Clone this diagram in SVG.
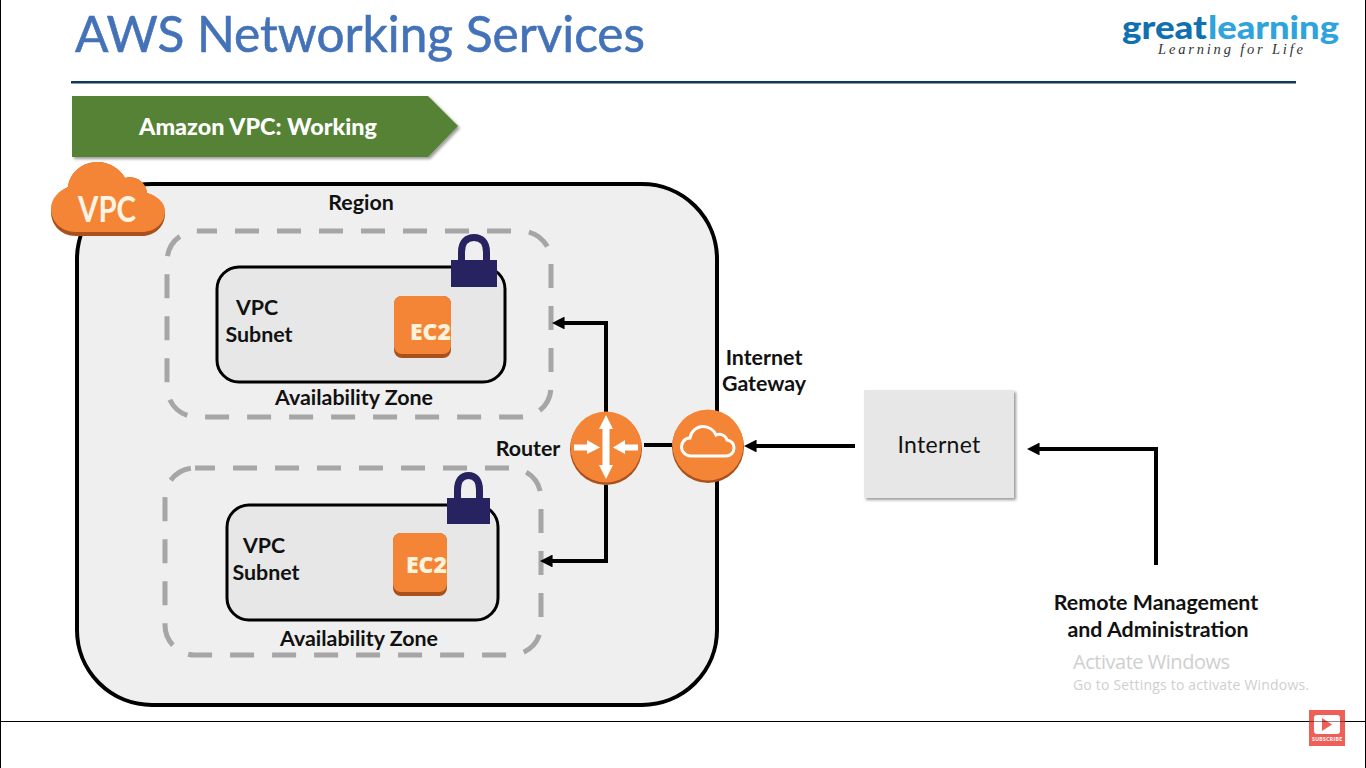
<svg xmlns="http://www.w3.org/2000/svg" width="1366" height="768" viewBox="0 0 1366 768">
<style>
text{font-family:Lato,"Open Sans","Liberation Sans",sans-serif}
.lb{font-size:21.4px;font-weight:700;fill:#111;text-anchor:middle}
.az{fill:none;stroke:#a6a6a6;stroke-width:5;stroke-dasharray:24 18;stroke-dashoffset:4}
.sn{fill:#e7e7e7;stroke:#000;stroke-width:3}
.lk{fill:#272361}
.sh{fill:none;stroke:#272361;stroke-width:7}
.or{fill:#f58536}
.ord{fill:#a9501c}
.ec{font-size:23px;font-weight:800;fill:#fff3dc;font-family:"Open Sans","Liberation Sans",sans-serif}
.cn{fill:none;stroke:#000;stroke-width:4}
.wa{fill:#fff}
</style>
<defs>
<marker id="ah" viewBox="0 0 10 10" refX="2" refY="5" markerWidth="3.2" markerHeight="3.2" orient="auto"><path d="M0 0L10 5L0 10Z" fill="#000"/></marker>
<filter id="sd" x="-10%" y="-10%" width="125%" height="125%"><feDropShadow dx="2" dy="2" stdDeviation="1.6" flood-color="#000" flood-opacity=".4"/></filter>
<clipPath id="c1"><rect x="394" y="296" width="57" height="62"/></clipPath>
<clipPath id="c2"><rect x="393" y="533" width="54" height="63"/></clipPath>
</defs>
<rect width="1366" height="768" fill="#fff"/>
<path d="M.5 0V768M1365.500 0V768M0 721.500H1366" stroke="#000" fill="none"/>
<g id="title"><text x="75" y="52" font-size="51" fill="#4472b8" stroke="#4472b8" stroke-width=".6" textLength="570" lengthAdjust="spacingAndGlyphs">AWS Networking Services</text>
<rect x="71" y="81" width="1225" height="2.500" fill="#0f3a5c"/></g>
<g id="logo">
<text x="1122" y="39" font-size="32" font-weight="900" fill="#1170b0" textLength="85" lengthAdjust="spacingAndGlyphs">great</text>
<text x="1208" y="39" font-size="32" font-weight="900" fill="#2ea3dc" textLength="131" lengthAdjust="spacingAndGlyphs">learning</text>
<text x="1158" y="54" font-size="14.500" font-style="italic" fill="#333" textLength="145" style="font-family:'Liberation Serif',serif">Learning for Life</text>
</g>
<g id="banner"><polygon points="72,96 428,96 458,126 428,157 72,157" fill="#548235" filter="url(#sd)"/>
<text x="258" y="135" font-size="23.400" font-weight="900" fill="#fff" text-anchor="middle" textLength="238" lengthAdjust="spacingAndGlyphs">Amazon VPC: Working</text></g>
<g id="region"><rect x="77" y="184" width="640" height="521" rx="75" fill="#efefef" stroke="#000" stroke-width="4"/>
<text class="lb" x="361" y="210">Region</text></g>
<g id="az1"><rect class="az" x="167" y="231" width="384" height="186" rx="30"/><text class="lb" x="354" y="405">Availability Zone</text></g>
<g id="subnet1"><rect class="sn" x="217" y="267" width="288" height="115" rx="22"/><text class="lb" x="257" y="315">VPC</text><text class="lb" x="259" y="342">Subnet</text></g>
<g id="lock1"><path class="sh" d="M461.500 262V252C461.500 242 467 237.500 474 237.500C481 237.500 486.500 242 486.500 252V262"/><rect class="lk" x="451" y="260" width="46" height="27"/></g>
<g id="ec21"><rect class="ord" x="394" y="296" width="57" height="62" rx="8"/><rect class="or" x="394" y="296" width="57" height="58" rx="8"/><text class="ec" x="410" y="340" clip-path="url(#c1)">EC2</text></g>
<g id="az2"><rect class="az" x="165" y="468" width="376" height="187" rx="30"/><text class="lb" x="359" y="646">Availability Zone</text></g>
<g id="subnet2"><rect class="sn" x="227" y="505" width="271" height="115" rx="22"/><text class="lb" x="264" y="553">VPC</text><text class="lb" x="266" y="580">Subnet</text></g>
<g id="lock2"><path class="sh" d="M457.500 502V490C457.500 480 462 475.500 468.500 475.500C475 475.500 479.500 480 479.500 490V502"/><rect class="lk" x="447" y="498" width="43" height="26"/></g>
<g id="ec22"><rect class="ord" x="393" y="533" width="54" height="63" rx="8"/><rect class="or" x="393" y="533" width="54" height="59" rx="8"/><text class="ec" x="406" y="573" clip-path="url(#c2)">EC2</text></g>
<g id="vpc">
<path class="ord" d="M76 236C60 236 51 224 51 212C51 200 59 191 68 187C70 171 84 162 97 162C110 162 120 169 125 178C134 175 146 181 147 193C158 196 165 205 165 214C165 226 155 236 142 236Z"/>
<path class="or" d="M76 232C60 232 51 220 51 209C51 198 59 191 68 187C70 171 84 162 97 162C110 162 120 169 125 178C134 175 146 181 147 193C158 196 165 203 165 211C165 223 155 232 142 232Z"/>
<text x="107" y="222" font-size="37" font-weight="700" fill="#fff3e4" text-anchor="middle" textLength="58" lengthAdjust="spacingAndGlyphs">VPC</text></g>
<g id="connectors">
<path class="cn" d="M644 445H672"/>
<path class="cn" d="M855 446H754" marker-end="url(#ah)"/>
<path class="cn" d="M1156 565V449H1037" marker-end="url(#ah)"/>
<path class="cn" d="M606 412V323H562" marker-end="url(#ah)"/>
<path class="cn" d="M606 485V561H550" marker-end="url(#ah)"/>
</g>
<g id="router"><circle class="ord" cx="606" cy="449" r="36"/><circle class="or" cx="606" cy="447" r="35.500"/>
<path class="wa" d="M606 415L613 429H609.500V465H613L606 479L599 465H602.500V429H599Z"/>
<path class="wa" d="M574 444.500H587V440L600 447.500L587 454V450.500H574Z"/>
<path class="wa" d="M638 444.500H625V440L613 447.500L625 454V450.500H638Z"/>
<text class="lb" x="528" y="456">Router</text></g>
<g id="gateway"><circle class="ord" cx="708" cy="447" r="36"/><circle class="or" cx="708" cy="445" r="35.500"/>
<path d="M691 456C685 456 681.500 451 681.500 447C681.500 442 685 438 690 438C691 431 697 426.500 703 426.500C709 426.500 714 430 716 435C721 433 726 436 727 440C732 441 734 444 734 448C734 453 730 456 726 456Z" fill="none" stroke="#fff" stroke-width="3"/>
<text class="lb" x="764" y="365">Internet</text><text class="lb" x="764" y="391">Gateway</text></g>
<g id="internet"><rect x="864" y="390" width="150" height="108" fill="#e7e7e7" filter="url(#sd)"/><text x="939" y="453" font-size="23" fill="#111" text-anchor="middle" style="letter-spacing:.3px">Internet</text></g>
<g id="remote"><text class="lb" x="1156" y="610">Remote Management</text><text class="lb" x="1158" y="637">and Administration</text></g>
<g id="watermark"><text x="1073" y="669" font-size="20" fill="#cfcfcf" style="font-family:'Open Sans',sans-serif" textLength="157">Activate Windows</text><text x="1073" y="690" font-size="14" fill="#cfcfcf" style="font-family:'Open Sans',sans-serif" textLength="236">Go to Settings to activate Windows.</text></g>
<g id="subscribe"><rect x="1309" y="710" width="36" height="36" fill="#ee5f58"/><rect x="1314" y="715" width="26" height="19" rx="3" fill="#fff"/><polygon points="1322,718 1322,731 1332,724.500" fill="#ee5f58"/><text x="1327" y="741" font-size="5" font-weight="900" fill="#fff" text-anchor="middle" textLength="30">SUBSCRIBE</text><path d="M1309 721.500H1345" stroke="#000" opacity=".45"/></g>
</svg>
